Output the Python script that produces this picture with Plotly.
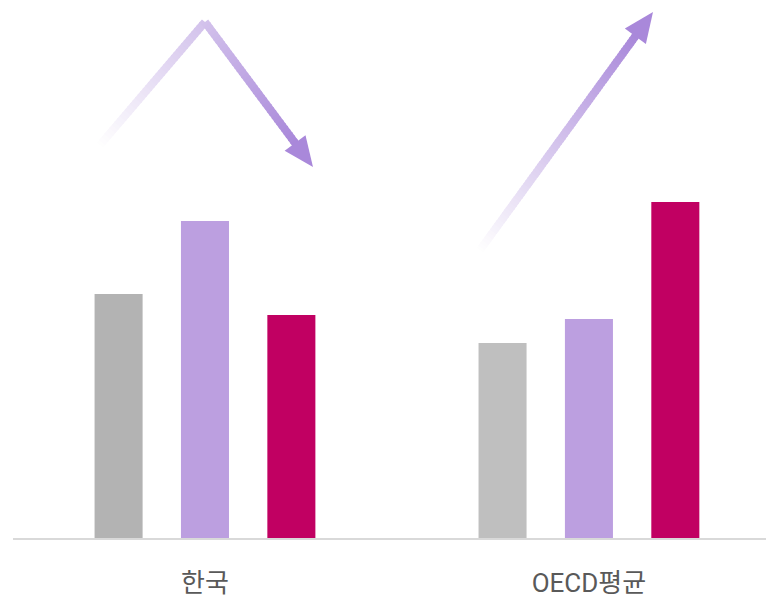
import plotly.graph_objects as go

categories = ["한국", "OECD평균"]
series_names = ["A", "B", "C"]
values_a = [24.4, 19.5]
values_b = [31.7, 21.9]
values_c = [22.3, 33.6]
colors_a = ["#b3b3b3", "#bfbfbf"]
colors_b = ["#bc9fe0", "#bc9fe0"]
colors_c = ["#c10062", "#c10062"]

# page offset caused by the default body margin
OFF = 8
W, H = 774 - OFF, 599 - OFF
ML, MR, MT, MB = 13 - OFF, 0, 0, 61
PW, PH = W - ML - MR, H - MT - MB

fig = go.Figure()
for name, vals, cols in [(series_names[0], values_a, colors_a),
                         (series_names[1], values_b, colors_b),
                         (series_names[2], values_c, colors_c)]:
    fig.add_trace(go.Bar(x=categories, y=vals, name=name,
                         marker=dict(color=cols, line=dict(width=0)),
                         hoverinfo="skip"))

def px(x, y):
    # x, y given in page pixels of the reference
    x -= OFF
    y -= OFF
    return ((x - ML) / PW, 1 - (y - MT) / PH)

def lerp(c0, c1, t):
    return tuple(c0[i] + (c1[i] - c0[i]) * t for i in range(3))

shapes = []
start_c = (255, 255, 255)
end_c = (169, 136, 218)

def gradient_path(points, n=80, width=8):
    segs = []
    total = 0
    for i in range(len(points) - 1):
        (x0, y0), (x1, y1) = points[i], points[i + 1]
        L = ((x1 - x0) ** 2 + (y1 - y0) ** 2) ** 0.5
        segs.append((x0, y0, x1, y1, L))
        total += L
    acc = 0
    for (x0, y0, x1, y1, L) in segs:
        k = max(1, int(round(n * L / total)))
        for j in range(k):
            t0, t1 = j / k, (j + 1) / k
            ext = 0.8 / L
            ta, tb = max(0, t0 - ext), min(1, t1 + ext)
            ax_, ay_ = x0 + (x1 - x0) * ta, y0 + (y1 - y0) * ta
            bx_, by_ = x0 + (x1 - x0) * tb, y0 + (y1 - y0) * tb
            g = (acc + L * (t0 + t1) / 2) / total
            c = lerp(start_c, end_c, g)
            pa, pb = px(ax_, ay_), px(bx_, by_)
            shapes.append(dict(type="line", xref="paper", yref="paper",
                               x0=pa[0], y0=pa[1], x1=pb[0], y1=pb[1],
                               line=dict(color="rgb(%d,%d,%d)" % (c[0], c[1], c[2]), width=width),
                               layer="above"))
        acc += L

def head(tip, frm, length=30, half=13, color="rgb(169,136,218)"):
    dx, dy = tip[0] - frm[0], tip[1] - frm[1]
    L = (dx * dx + dy * dy) ** 0.5
    ux, uy = dx / L, dy / L
    bx, by = tip[0] - ux * length, tip[1] - uy * length
    p1 = (bx - uy * half, by + ux * half)
    p2 = (bx + uy * half, by - ux * half)
    pts = [px(*tip), px(*p1), px(*p2)]
    path = "M %f %f L %f %f L %f %f Z" % (pts[0][0], pts[0][1], pts[1][0], pts[1][1], pts[2][0], pts[2][1])
    return dict(type="path", xref="paper", yref="paper", path=path,
                fillcolor=color, line=dict(width=0), layer="above"), (bx + ux * 2, by + uy * 2)

# arrow 1 (Korea): up then down
tip1, peak1 = (313, 167), (205, 22)
h1, base1 = head(tip1, peak1)
gradient_path([(100, 145), peak1, base1])
shapes.append(h1)

# arrow 2 (OECD): rising
tip2, start2 = (653, 12), (480, 250)
h2, base2 = head(tip2, start2)
gradient_path([start2, base2])
shapes.append(h2)

fig.update_layout(
    width=W, height=H,
    margin=dict(l=ML, r=MR, t=MT, b=MB),
    paper_bgcolor="white", plot_bgcolor="white",
    showlegend=False,
    barmode="group", bargap=0.325, bargroupgap=0.444,
    shapes=shapes,
    xaxis=dict(range=[-0.5, 1.482], showline=True, linecolor="#d9d9d9", linewidth=2,
               showgrid=False, zeroline=False, ticks="", ticklabelstandoff=21,
               automargin=False,
               tickfont=dict(family="Roboto, Noto Sans CJK KR", size=26, color="#595959"),
               fixedrange=True),
    yaxis=dict(range=[0, PH / 10.0], visible=False, showgrid=False, zeroline=False,
               automargin=False, fixedrange=True),
)

fig.write_html("out.html", config={"displayModeBar": False})
